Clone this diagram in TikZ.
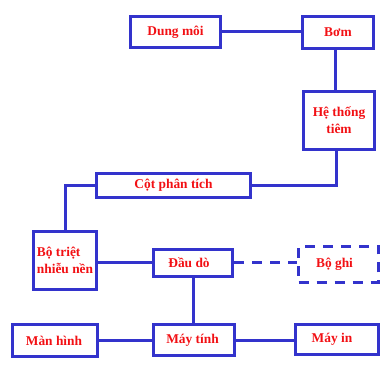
\documentclass[tikz,border=0pt]{standalone}
\usepackage{fontspec}
\setmainfont{Liberation Serif}
\definecolor{lblue}{RGB}{51,51,204}
\definecolor{lred}{RGB}{242,16,20}
\begin{document}
\begin{tikzpicture}[x=1pt,y=1pt,
  box/.style={draw=lblue, line width=3pt, rectangle, inner sep=0pt, text=lred,
    align=center, font=\bfseries\fontsize{13.4}{17}\selectfont},
  link/.style={draw=lblue, line width=3pt},
  dashlink/.style={draw=lblue, line width=3pt, dash pattern=on 10pt off 8pt}]
\useasboundingbox (0,0) rectangle (390,369);
\node[box, minimum width=90pt, minimum height=31pt] (dung) at (175.5,337) {Dung môi};
\node[box, minimum width=71pt, minimum height=32pt] (bom) at (338,336.5) {Bơm};
\node[box, minimum width=71pt, minimum height=58pt] (he) at (339,248.5) {Hệ thống\\tiêm};
\node[box, minimum width=154pt, minimum height=24pt] (cot) at (173.5,183.5) {Cột phân tích};
\node[box, minimum width=63pt, minimum height=58pt, align=left] (botriet) at (65,108.5) {Bộ triệt\\nhiễu nền};
\node[box, minimum width=79pt, minimum height=27pt] (dau) at (193,106) {Đầu dò\hspace*{8pt}};
\node[box, minimum width=80pt, minimum height=36pt, dash pattern=on 10pt off 8pt] (boghi) at (338.5,104.5) {Bộ ghi\hspace*{8pt}};
\node[box, minimum width=81pt, minimum height=31pt] (maytinh) at (194,29) {Máy tính\hspace*{3pt}};
\node[box, minimum width=85pt, minimum height=32pt] (manhinh) at (55,28.5) {Màn hình\hspace*{2pt}};
\node[box, minimum width=83pt, minimum height=30pt] (mayin) at (337,29.5) {Máy in\hspace*{10pt}};
\draw[link] (dung.east) -- (dung.east -| bom.west);
\draw[link] ([xshift=-3pt]bom.south) -- ([xshift=-3pt]bom.south |- he.north);
\draw[link] ([xshift=-3pt]he.south) |- (cot.east);
\draw[link] (cot.west) -| (botriet.north);
\draw[link] (dau.west) -- (dau.west -| botriet.east);
\draw[dashlink] (dau.east) -- (dau.east -| boghi.west);
\draw[link] (dau.south) -- (dau.south |- maytinh.north);
\draw[link] (maytinh.west) -- (maytinh.west -| manhinh.east);
\draw[link] (maytinh.east) -- (maytinh.east -| mayin.west);
\end{tikzpicture}
\end{document}
